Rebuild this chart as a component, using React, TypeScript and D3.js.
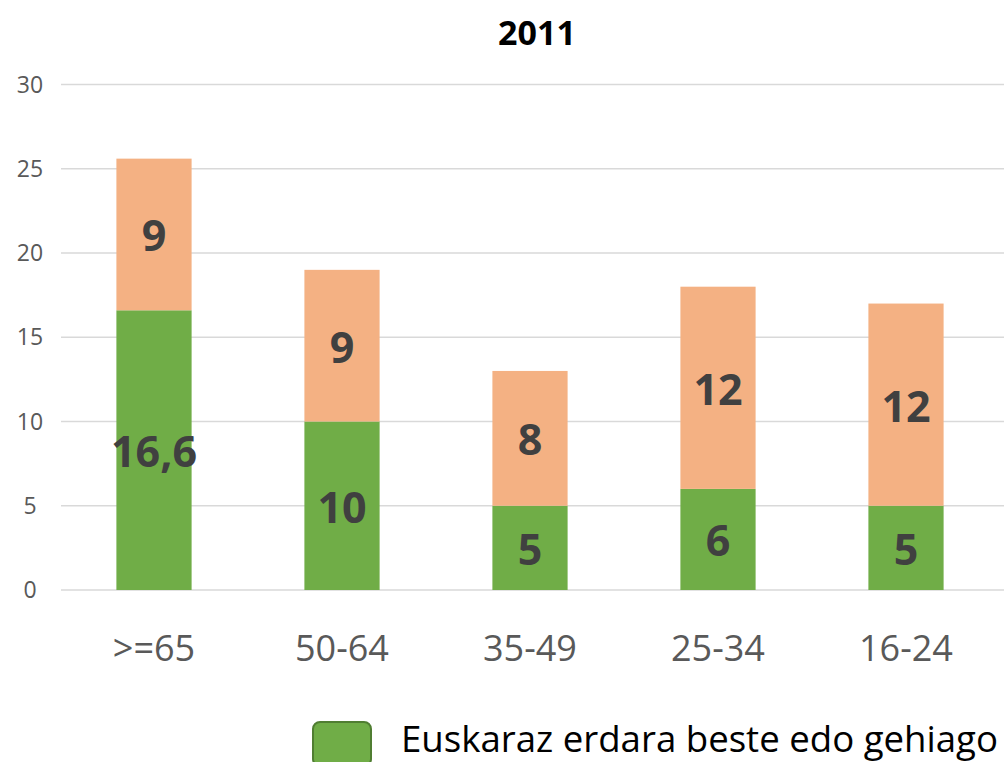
import React from "react";
import * as d3 from "d3";

const categories = [">=65", "50-64", "35-49", "25-34", "16-24"];
const greenValues = [16.6, 10, 5, 6, 5];
const orangeValues = [9, 9, 8, 12, 12];
const greenLabels = ["16,6", "10", "5", "6", "5"];
const orangeLabels = ["9", "9", "8", "12", "12"];
const yTicks = [0, 5, 10, 15, 20, 25, 30];
const title = "2011";
const legendLabel = "Euskaraz erdara beste edo gehiago";

const W = 1004;
const H = 762;
const FONT = "'Open Sans', 'Noto Sans', sans-serif";

export default function App() {
  const x = d3.scaleBand<string>().domain(categories).range([60, 1000]).paddingInner(0.6).paddingOuter(0.3);
  const y = d3.scaleLinear().domain([0, 30]).range([590, 84.5]);
  const bw = x.bandwidth();
  return (
    <svg width={W} height={H} style={{ position: "absolute", left: 0, top: 0, background: "#fff" }}>
      <text x={537} y={45} textAnchor="middle" fontFamily={FONT} fontWeight="bold" fontSize={34} fill="#000">{title}</text>
      {yTicks.map((t) => (
        <g key={t}>
          <line x1={61} x2={1004} y1={y(t)} y2={y(t)} stroke="#d9d9d9" strokeWidth={1.5} />
          <text x={30} y={y(t) + 8} textAnchor="middle" fontFamily={FONT} fontSize={23} fill="#595959">{t}</text>
        </g>
      ))}
      {categories.map((c, i) => {
        const x0 = x(c)!;
        const g = greenValues[i];
        const o = orangeValues[i];
        return (
          <g key={c}>
            <rect x={x0} y={y(g)} width={bw} height={y(0) - y(g)} fill="#70ad47" />
            <rect x={x0} y={y(g + o)} width={bw} height={y(g) - y(g + o)} fill="#f4b183" />
            <text x={x0 + bw / 2} y={y(g / 2) + 17} textAnchor="middle" fontFamily={FONT} fontWeight="bold" fontSize={43} fill="#404040">{greenLabels[i]}</text>
            <text x={x0 + bw / 2} y={y(g + o / 2) + 17} textAnchor="middle" fontFamily={FONT} fontWeight="bold" fontSize={43} fill="#404040">{orangeLabels[i]}</text>
            <text x={x0 + bw / 2} y={661} textAnchor="middle" fontFamily={FONT} fontSize={36} fill="#595959">{c}</text>
          </g>
        );
      })}
      <rect x={313} y={722} width={58} height={44} rx={7} fill="#70ad47" stroke="#507e32" strokeWidth={2} />
      <text x={401} y={752} fontFamily={FONT} fontSize={37} fill="#000" textLength={597} lengthAdjust="spacingAndGlyphs">{legendLabel}</text>
    </svg>
  );
}
